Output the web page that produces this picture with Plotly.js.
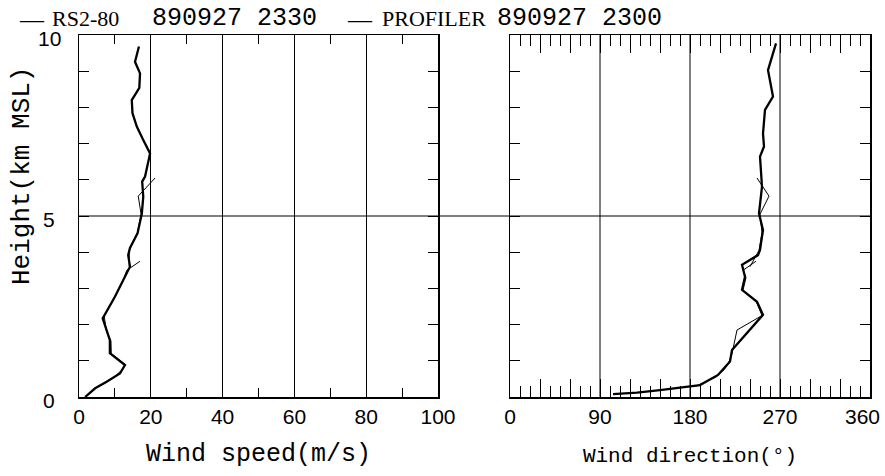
<!DOCTYPE html>
<html>
<head>
<meta charset="utf-8">
<script src="https://cdn.plot.ly/plotly-3.0.1.min.js"></script>
<style>
html,body{margin:0;padding:0;background:#fff;}
</style>
</head>
<body>
<div id="chart" style="width:885px;height:476px;"></div>
<script>
// ---- data ----
const rsHeights = [0.0, 0.24, 0.42, 0.65, 0.88, 1.21, 1.57, 2.17, 2.77, 3.32, 3.60, 3.92, 4.12, 4.52, 5.07, 5.53, 5.95, 6.09, 6.36, 6.73, 7.10, 7.47, 7.84, 8.20, 8.54, 8.94, 9.26, 9.68];
const rsSpeed   = [1.7, 4.5, 7.7, 11.4, 12.8, 8.6, 8.6, 6.6, 10.0, 12.8, 14.2, 13.7, 14.2, 16.3, 17.5, 17.9, 17.6, 18.4, 19.0, 19.8, 17.9, 16.1, 14.9, 14.7, 16.8, 17.0, 15.6, 16.7];

const rsDirHeights = [0.08, 0.12, 0.19, 0.28, 0.33, 0.61, 0.98, 1.30, 1.94, 2.27, 2.63, 2.96, 3.32, 3.65, 3.92, 4.06, 4.61, 5.07, 5.81, 6.64, 6.92, 7.28, 7.93, 8.30, 9.03, 9.77];
const rsDir        = [103, 127, 150, 180, 190, 208, 220, 222, 242, 253, 247, 232, 235, 232, 248, 250, 253, 249, 252, 250, 254, 253, 255, 263, 258, 266];

// profiler: low mode, then (after null) high mode
const profHeights = [0.30, 0.55, 0.75, 0.90, 1.20, 1.55, 1.85, 2.25, 2.65, 2.95, 3.30, 3.50, 3.75, null, 3.60, 4.05, 4.55, 5.05, 5.55, 6.05];
const profSpeed   = [5.6, 9.8, 12.0, 12.9, 9.0, 8.9, 7.6, 7.0, 9.4, 10.9, 12.6, 13.3, 17.0, null, 14.0, 14.0, 16.3, 17.3, 16.5, 21.2];
const profDir     = [186, 206, 214, 218, 222, 225, 227, 252, 246, 233, 236, 233, 246, null, 240, 249, 252, 250, 259, 247];

const speedTickVals = [0, 20, 40, 60, 80, 100];
const speedMinorVals = [10, 30, 50, 70, 90];
const dirTickVals = [0, 30, 60, 90, 120, 150, 180, 210, 240, 270, 300, 330, 360];
const dirTickText = ['0', '', '', '90', '', '', '180', '', '', '270', '', '', ''];
const dirEdgeLabelVal = 360;
const dirEdgeLabelText = '360';
const dirMinorVals = [10, 20, 40, 50, 70, 80, 100, 110, 130, 140, 160, 170, 190, 200, 220, 230, 250, 260, 280, 290, 310, 320, 340, 350];
const dirGrid = [90, 180, 270];
const heightGrid = [5];
const heightLabelVals = [0, 5, 10];
const heightLabelText = ['0', '5', '10'];

const titleParts = ['\u2014', 'RS2-80', '890927 2330', '\u2014', 'PROFILER', '890927 2300'];

// ---- styling ----
const BLACK = '#000';
const serif = 'Liberation Serif, DejaVu Serif, serif';
const mono = 'Liberation Mono, DejaVu Sans Mono, monospace';
const sans = 'Liberation Sans, DejaVu Sans, sans-serif';

const traces = [
  {x: rsSpeed, y: rsHeights, xaxis: 'x', yaxis: 'y', mode: 'lines', line: {color: BLACK, width: 2.3}, hoverinfo: 'skip', name: 'RS2-80'},
  {x: profSpeed, y: profHeights, xaxis: 'x', yaxis: 'y', mode: 'lines', line: {color: BLACK, width: 1}, connectgaps: false, hoverinfo: 'skip', name: 'PROFILER'},
  {x: rsDir, y: rsDirHeights, xaxis: 'x2', yaxis: 'y2', mode: 'lines', line: {color: BLACK, width: 2.3}, hoverinfo: 'skip', name: 'RS2-80'},
  {x: profDir, y: profHeights, xaxis: 'x2', yaxis: 'y2', mode: 'lines', line: {color: BLACK, width: 1}, connectgaps: false, hoverinfo: 'skip', name: 'PROFILER'}
];

const axisCommon = {
  showline: true, linecolor: BLACK, linewidth: 1.5, mirror: 'allticks',
  ticks: 'inside', tickcolor: BLACK, tickwidth: 1, zeroline: false, fixedrange: true
};

const W = 885, H = 476, ML = 79, MR = 15, MT = 35, MB = 79;
const PW = W - ML - MR, PH = H - MT - MB;
const px2x = p => (p - ML) / PW;
const py2y = p => (H - MB - p) / PH;

const titleX = [17, 50, 150, 345, 380, 495];
const titleFonts = [serif, serif, mono, serif, serif, mono];
const titleSizes = [24, 22, 25, 24, 22, 25];

const annotations = [];
titleParts.forEach((t, i) => {
  annotations.push({
    text: t, xref: 'paper', yref: 'paper', x: px2x(titleX[i]), y: py2y(19),
    xanchor: 'left', yanchor: 'middle', showarrow: false,
    font: {family: titleFonts[i], size: titleSizes[i], color: BLACK}
  });
});
heightLabelVals.forEach((v, i) => {
  annotations.push({
    text: heightLabelText[i], xref: 'paper', yref: 'y', x: px2x(49), y: v, yshift: -3,
    xanchor: 'center', yanchor: 'middle', showarrow: false,
    font: {family: sans, size: 21, color: BLACK}
  });
});
annotations.push({
  text: dirEdgeLabelText, xref: 'x2', yref: 'paper', x: dirEdgeLabelVal, y: py2y(416), xshift: -8,
  xanchor: 'center', yanchor: 'middle', showarrow: false,
  font: {family: sans, size: 21, color: BLACK}
});
annotations.push({
  text: 'Height(km MSL)', xref: 'paper', yref: 'paper', x: px2x(22), y: py2y(176),
  xanchor: 'center', yanchor: 'middle', showarrow: false, textangle: -90,
  font: {family: mono, size: 26, color: BLACK}
});

const shapes = [];
dirGrid.forEach(d => shapes.push({type: 'line', xref: 'x2', yref: 'y2 domain', x0: d, x1: d, y0: 0, y1: 1, line: {color: BLACK, width: 1}, layer: 'below'}));
heightGrid.forEach(h => shapes.push({type: 'line', xref: 'paper', yref: 'y', x0: 0, x1: 1, y0: h, y1: h, line: {color: BLACK, width: 1.2}, layer: 'below'}));

const layout = {
  width: W, height: H,
  margin: {l: ML, r: MR, t: MT, b: MB, pad: 0},
  paper_bgcolor: '#fff', plot_bgcolor: '#fff',
  showlegend: false,
  font: {family: sans, size: 21, color: BLACK},
  xaxis: Object.assign({}, axisCommon, {
    domain: [0, px2x(438)], range: [0, 100], anchor: 'y',
    tickmode: 'array', tickvals: speedTickVals, ticklen: 9,
    showgrid: true, gridcolor: BLACK, gridwidth: 1,
    minor: {tickmode: 'array', tickvals: speedMinorVals, ticks: 'inside', ticklen: 9, tickwidth: 1, tickcolor: BLACK, showgrid: false},
    ticklabelstandoff: 0,
    tickfont: {family: sans, size: 21, color: BLACK},
    title: {text: 'Wind speed(m/s)', font: {family: mono, size: 25, color: BLACK}, standoff: 17}
  }),
  yaxis: Object.assign({}, axisCommon, {
    domain: [0, 1], range: [0, 10], anchor: 'x',
    tickmode: 'linear', tick0: 0, dtick: 1, ticklen: 10,
    showticklabels: false, showgrid: false
  }),
  xaxis2: Object.assign({}, axisCommon, {
    domain: [px2x(510), 1], range: [0, 360], anchor: 'y2',
    tickmode: 'array', tickvals: dirTickVals, ticktext: dirTickText, ticklen: 18,
    showgrid: false,
    minor: {tickmode: 'array', tickvals: dirMinorVals, ticks: 'inside', ticklen: 11, tickwidth: 1, tickcolor: BLACK, showgrid: false},
    ticklabelstandoff: 0,
    tickfont: {family: sans, size: 21, color: BLACK},
    title: {text: 'Wind direction(\u00b0)', font: {family: mono, size: 21, color: BLACK}, standoff: 20}
  }),
  yaxis2: Object.assign({}, axisCommon, {
    domain: [0, 1], range: [0, 10], anchor: 'x2',
    tickmode: 'linear', tick0: 0, dtick: 1, ticklen: 10,
    showticklabels: false, showgrid: false
  }),
  annotations: annotations,
  shapes: shapes
};

Plotly.newPlot('chart', traces, layout, {displayModeBar: false, staticPlot: true});
</script>
</body>
</html>
